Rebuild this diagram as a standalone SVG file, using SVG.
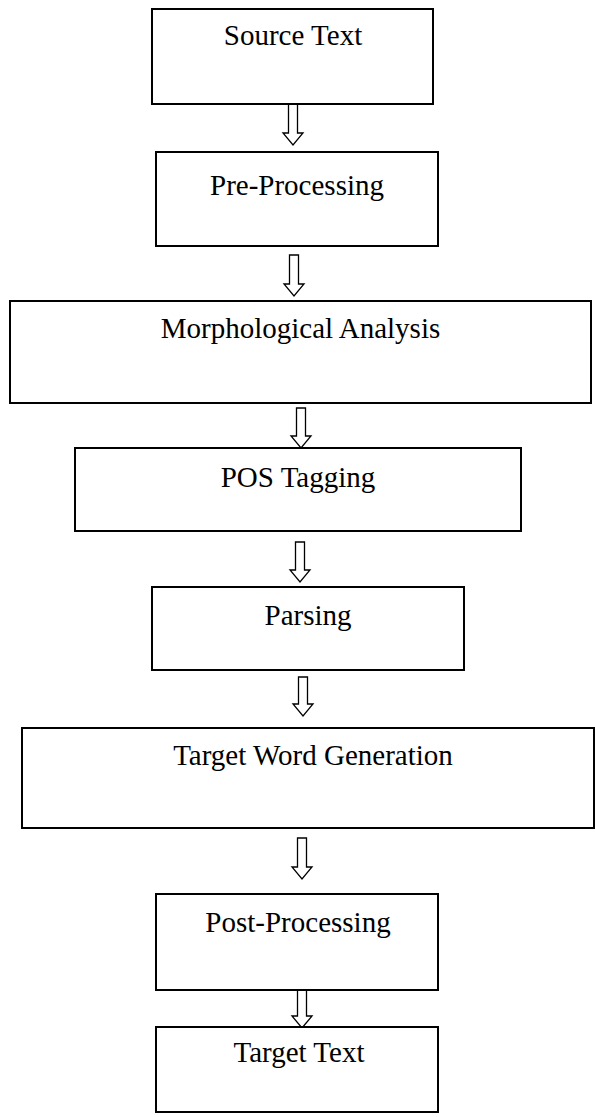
<svg xmlns="http://www.w3.org/2000/svg" width="595" height="1117" viewBox="0 0 595 1117">
  <style>
    .box { fill: #ffffff; stroke: #000000; stroke-width: 2; }
    .label { font-family: "Liberation Serif", "Times New Roman", serif; font-size: 29px; fill: #000000; text-anchor: middle; }
    .flow { fill: #ffffff; stroke: #000000; stroke-width: 1.3; stroke-linejoin: miter; }
  </style>
  <rect width="595" height="1117" fill="#ffffff"/>

  <!-- hollow block arrows between stages -->
  <g id="connectors">
    <path class="flow" d="M288.5,104 H297.5 V133 H303 L293,145 L283,133 H288.5 Z"/>
    <path class="flow" d="M289.5,255 H298.5 V284 H304 L294,296 L284,284 H289.5 Z"/>
    <path class="flow" d="M296.5,408 H305.5 V436 H311 L301,448 L291,436 H296.5 Z"/>
    <path class="flow" d="M295.5,542 H304.5 V570 H310 L300,582 L290,570 H295.5 Z"/>
    <path class="flow" d="M298.5,677 H307.5 V704 H313 L303,716 L293,704 H298.5 Z"/>
    <path class="flow" d="M297.5,838 H306.5 V867 H312 L302,879 L292,867 H297.5 Z"/>
    <path class="flow" d="M297.5,990 H306.5 V1016 H312 L302,1028 L292,1016 H297.5 Z"/>
  </g>

  <g id="source-text">
    <rect class="box" x="152" y="9" width="281" height="95"/>
    <text class="label" x="293" y="45">Source Text</text>
  </g>

  <g id="pre-processing">
    <rect class="box" x="156" y="152" width="282" height="94"/>
    <text class="label" x="297" y="195">Pre-Processing</text>
  </g>

  <g id="morphological-analysis">
    <rect class="box" x="10" y="301" width="581" height="102"/>
    <text class="label" x="300.5" y="338">Morphological Analysis</text>
  </g>

  <g id="pos-tagging">
    <rect class="box" x="75" y="448" width="446" height="83"/>
    <text class="label" x="298" y="487">POS Tagging</text>
  </g>

  <g id="parsing">
    <rect class="box" x="152" y="587" width="312" height="83"/>
    <text class="label" x="308" y="625">Parsing</text>
  </g>

  <g id="target-word-generation">
    <rect class="box" x="22" y="728" width="572" height="100"/>
    <text class="label" x="313" y="765">Target Word Generation</text>
  </g>

  <g id="post-processing">
    <rect class="box" x="156" y="894" width="282" height="96"/>
    <text class="label" x="298" y="932">Post-Processing</text>
  </g>

  <g id="target-text">
    <rect class="box" x="156" y="1027" width="282" height="85"/>
    <text class="label" x="299" y="1062">Target Text</text>
  </g>
</svg>
